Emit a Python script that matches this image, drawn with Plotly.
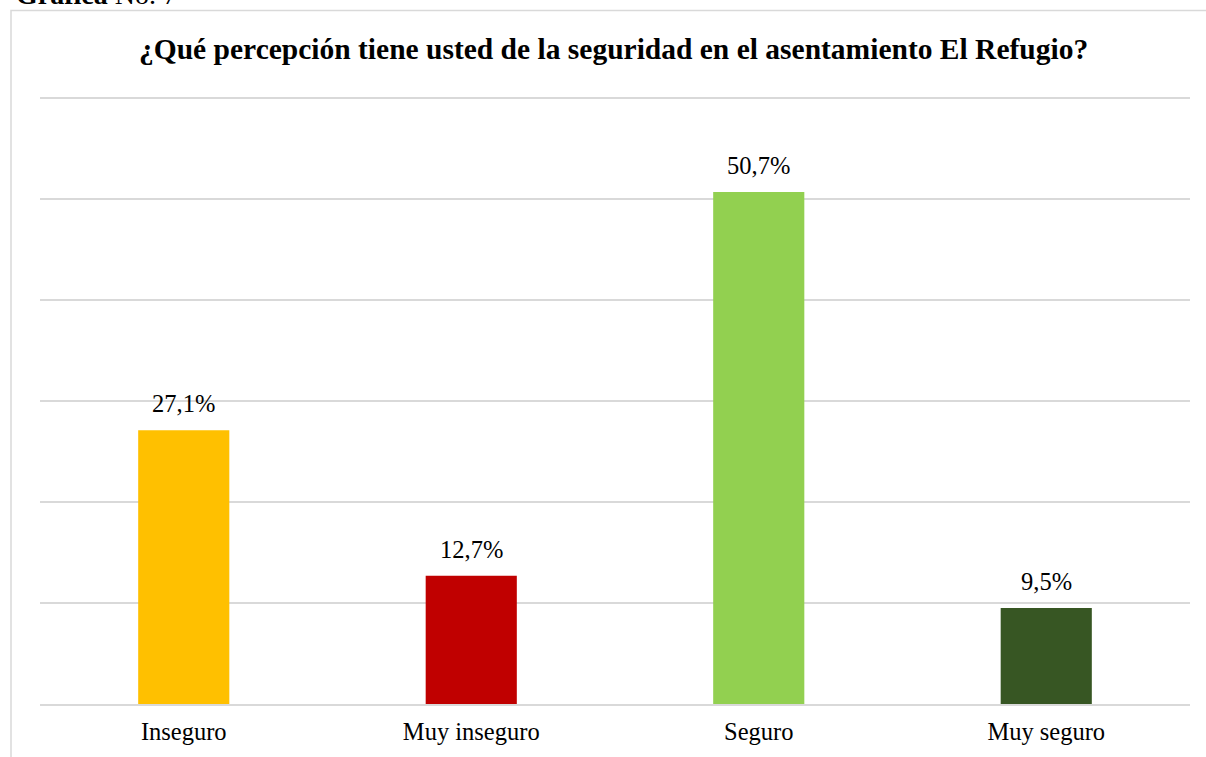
import plotly.graph_objects as go

categories = ["Inseguro", "Muy inseguro", "Seguro", "Muy seguro"]
percentages = [27.1, 12.7, 50.7, 9.5]
bar_colors = ["#FFC000", "#C00000", "#92D050", "#375623"]
y_ticks = [0, 10, 20, 30, 40, 50, 60]

title_text = "¿Qué percepción tiene usted de la seguridad en el asentamiento El Refugio?"
caption_text = "<b>Gráfica</b> No. 7"

SERIF = "Liberation Serif, Times New Roman, serif"
GRID = "#d9d9d9"

W, H = 1206, 757
ML, MR, MT, MB = 40, 16, 97, 53
pw = W - ML - MR
ph = H - MT - MB


def px_to_paper_x(px):
    return (px - ML) / pw


def px_to_paper_y(py):
    return (H - MB - py) / ph


fig = go.Figure(
    go.Bar(
        x=categories,
        y=percentages,
        marker=dict(color=bar_colors, line=dict(width=0)),
        hoverinfo="skip",
    )
)

# value labels above each bar, written with a decimal comma
for cat, val in zip(categories, percentages):
    fig.add_annotation(
        x=cat,
        y=val,
        text=f"{val:.1f}".replace(".", ",") + "%",
        showarrow=False,
        yanchor="bottom",
        yshift=11,
        font=dict(family=SERIF, size=24.5, color="#000000"),
    )

# chart title
fig.add_annotation(
    x=px_to_paper_x(613),
    y=px_to_paper_y(49),
    xref="paper",
    yref="paper",
    text=f"<b>{title_text}</b>",
    showarrow=False,
    xanchor="center",
    yanchor="middle",
    font=dict(family=SERIF, size=29.5, color="#000000"),
)

# figure caption above the chart frame
fig.add_annotation(
    x=px_to_paper_x(14),
    y=px_to_paper_y(11.5),
    xref="paper",
    yref="paper",
    text=caption_text,
    showarrow=False,
    xanchor="left",
    yanchor="bottom",
    font=dict(family=SERIF, size=28, color="#000000"),
)

# chart frame
fig.add_shape(
    type="rect",
    xref="paper",
    yref="paper",
    x0=px_to_paper_x(11),
    x1=px_to_paper_x(1215),
    y0=px_to_paper_y(780),
    y1=px_to_paper_y(10.5),
    line=dict(color=GRID, width=1.5),
    fillcolor="rgba(0,0,0,0)",
    layer="below",
)

fig.update_layout(
    width=W,
    height=H,
    margin=dict(l=ML, r=MR, t=MT, b=MB, pad=0),
    paper_bgcolor="#ffffff",
    plot_bgcolor="#ffffff",
    bargap=0.683,
    showlegend=False,
    font=dict(family=SERIF, size=24.5, color="#000000"),
)

fig.update_xaxes(
    showgrid=False,
    showline=True,
    linecolor=GRID,
    linewidth=1.5,
    ticks="",
    tickfont=dict(family=SERIF, size=24.5, color="#000000"),
    ticklabelstandoff=5,
    automargin=False,
    fixedrange=True,
)

fig.update_yaxes(
    range=[0, 60.1],
    tickvals=y_ticks,
    showticklabels=False,
    showgrid=True,
    gridcolor=GRID,
    gridwidth=1.5,
    zeroline=False,
    showline=False,
    ticks="",
    automargin=False,
    fixedrange=True,
)

fig.write_html("out.html")
